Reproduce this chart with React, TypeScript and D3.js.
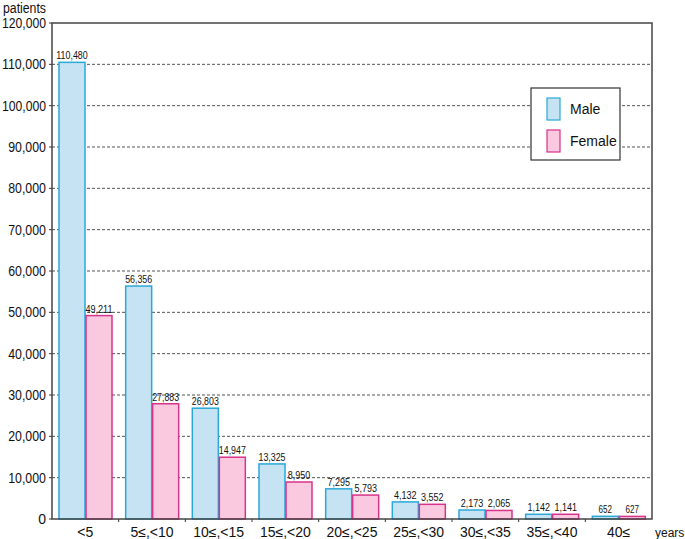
import React, { useEffect, useRef } from 'react';
import * as d3 from 'd3';

const categories = ['<5', '5≤,<10', '10≤,<15', '15≤,<20', '20≤,<25', '25≤,<30', '30≤,<35', '35≤,<40', '40≤'];
const male = [110480, 56356, 26803, 13325, 7295, 4132, 2173, 1142, 652];
const female = [49211, 27883, 14947, 8950, 5793, 3552, 2065, 1141, 627];
const yTicks = d3.range(0, 120001, 10000);

const App = () => {
  const ref = useRef<SVGSVGElement>(null);

  useEffect(() => {
    const svg = d3.select(ref.current);
    svg.selectAll('*').remove();

    const left = 52, right = 652, top = 23, bottom = 519;
    const font = 'Liberation Sans, Arial, sans-serif';
    const fmt = d3.format(',');

    const x = d3.scaleBand<string>().domain(categories).range([left, right]);
    const y = d3.scaleLinear().domain([0, 120000]).range([bottom, top]);

    // gridlines
    svg.append('g')
      .selectAll('line')
      .data(yTicks.filter(t => t > 0 && t < 120000))
      .enter()
      .append('line')
      .attr('x1', left)
      .attr('x2', right)
      .attr('y1', d => y(d))
      .attr('y2', d => y(d))
      .attr('stroke', '#555')
      .attr('stroke-dasharray', '3,2')
      .attr('stroke-width', 1);

    // y tick labels + ticks
    const yAxis = svg.append('g');
    yAxis.selectAll('text')
      .data(yTicks)
      .enter()
      .append('text')
      .attr('x', 46)
      .attr('y', d => y(d) + 5)
      .attr('text-anchor', 'end')
      .attr('font-family', font)
      .attr('font-size', 14)
      .attr('textLength', d => d >= 1000 ? fmt(d).length * 6.3 : null)
      .attr('lengthAdjust', 'spacingAndGlyphs')
      .attr('fill', '#111')
      .text(d => fmt(d));
    yAxis.selectAll('line')
      .data(yTicks)
      .enter()
      .append('line')
      .attr('x1', left - 3)
      .attr('x2', left)
      .attr('y1', d => y(d))
      .attr('y2', d => y(d))
      .attr('stroke', '#333');

    const barW = 26;
    const offset = 7;

    const groups = svg.append('g')
      .selectAll('g')
      .data(categories)
      .enter()
      .append('g');

    const series = [
      { values: male, fill: '#c6e3f4', stroke: '#2aa8d8', dx: offset },
      { values: female, fill: '#fac9e0', stroke: '#d6338a', dx: offset + barW + 1 },
    ];

    series.forEach(s => {
      groups.append('rect')
        .attr('x', d => (x(d) as number) + s.dx)
        .attr('y', (d, i) => y(s.values[i]))
        .attr('width', barW)
        .attr('height', (d, i) => bottom - y(s.values[i]))
        .attr('fill', s.fill)
        .attr('stroke', s.stroke)
        .attr('stroke-width', 1.5);
      groups.append('text')
        .attr('x', d => (x(d) as number) + s.dx + barW / 2)
        .attr('y', (d, i) => y(s.values[i]) - 3)
        .attr('text-anchor', 'middle')
        .attr('font-family', font)
        .attr('font-size', 11.5)
        .attr('textLength', (d, i) => fmt(s.values[i]).length * 4.5)
        .attr('lengthAdjust', 'spacingAndGlyphs')
        .attr('fill', '#111')
        .text((d, i) => fmt(s.values[i]));
    });

    // x labels
    svg.append('g')
      .selectAll('text')
      .data(categories)
      .enter()
      .append('text')
      .attr('x', d => (x(d) as number) + x.bandwidth() / 2)
      .attr('y', 537)
      .attr('text-anchor', 'middle')
      .attr('font-family', font)
      .attr('font-size', 14)
      .attr('fill', '#111')
      .text(d => d);

    // x ticks between groups
    svg.append('g')
      .selectAll('line')
      .data(categories.slice(1))
      .enter()
      .append('line')
      .attr('x1', d => x(d) as number)
      .attr('x2', d => x(d) as number)
      .attr('y1', bottom)
      .attr('y2', bottom + 3)
      .attr('stroke', '#333');

    // frame
    svg.append('rect')
      .attr('x', left)
      .attr('y', top)
      .attr('width', right - left)
      .attr('height', bottom - top)
      .attr('fill', 'none')
      .attr('stroke', '#444')
      .attr('stroke-width', 1.5);

    // axis titles
    svg.append('text')
      .attr('x', 3).attr('y', 13)
      .attr('font-family', font).attr('font-size', 14).attr('fill', '#111')
      .attr('textLength', 43).attr('lengthAdjust', 'spacingAndGlyphs')
      .text('patients');
    svg.append('text')
      .attr('x', 655).attr('y', 537)
      .attr('font-family', font).attr('font-size', 12).attr('fill', '#111')
      .text('years');

    // legend
    const lg = svg.append('g');
    lg.append('rect')
      .attr('x', 531).attr('y', 88).attr('width', 89).attr('height', 72)
      .attr('fill', 'white').attr('stroke', '#333').attr('stroke-width', 1.2);
    [
      { name: 'Male', fill: '#c6e3f4', stroke: '#2aa8d8' },
      { name: 'Female', fill: '#fac9e0', stroke: '#d6338a' },
    ].forEach((s, i) => {
      lg.append('rect')
        .attr('x', 547).attr('y', 98 + i * 32).attr('width', 13).attr('height', 22)
        .attr('fill', s.fill).attr('stroke', s.stroke).attr('stroke-width', 1.2);
      lg.append('text')
        .attr('x', 570).attr('y', 114 + i * 32)
        .attr('font-family', font).attr('font-size', 14).attr('fill', '#111')
        .text(s.name);
    });
  }, []);

  return (
    <svg ref={ref} width={685} height={539}
      style={{ position: 'absolute', left: 0, top: 0, background: 'white' }} />
  );
};

export default App;
